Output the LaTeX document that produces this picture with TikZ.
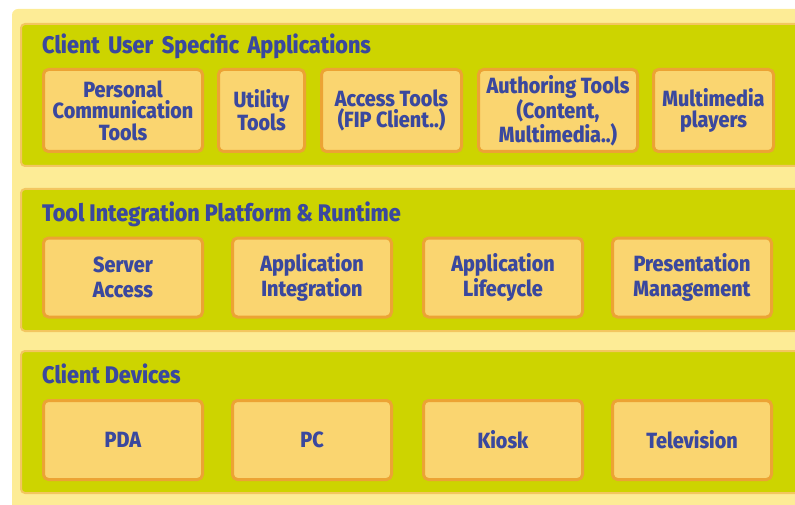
\documentclass[tikz,border=0pt]{standalone}
\usepackage{fontspec}
\setmainfont{Fira Sans}[BoldFont={Fira Sans ExtraBold},FakeStretch=0.9]
\definecolor{paleback}{RGB}{253,236,150}
\definecolor{layergreen}{RGB}{205,212,0}
\definecolor{layerrim}{RGB}{243,198,96}
\definecolor{toolfill}{RGB}{250,213,112}
\definecolor{toolrim}{RGB}{236,163,52}
\definecolor{inkblue}{RGB}{58,72,158}
\tikzset{
  layer/.style={draw=layerrim, fill=layergreen, line width=2pt, rounded corners=4pt},
  layertitle/.style={anchor=base west, inner sep=0pt, text=inkblue,
    font=\bfseries\fontsize{24}{26}\selectfont},
  toolbox/.style={draw=toolrim, fill=toolfill, line width=3pt, rounded corners=5pt,
    text=inkblue, align=center, inner sep=0pt},
  toprow/.style={toolbox, minimum height=82pt, font=\bfseries\fontsize{22}{21.5}\selectfont},
  lowrow/.style={toolbox, minimum height=79pt, font=\bfseries\fontsize{22}{25.5}\selectfont},
}
\begin{document}
\begin{tikzpicture}[x=1pt,y=-1pt]
\useasboundingbox (0,0) rectangle (795,505);
% pale backdrop behind the three layers
\fill[paleback, rounded corners=6pt] (12,9) rectangle (830,540);

% the three layers
\draw[layer] (21,24) rectangle (800,166);
\draw[layer] (21,189) rectangle (800,331);
\draw[layer] (21,351) rectangle (800,493);

\node[layertitle] (t1) at (42,54) {Client\hspace{0.35em}User\hspace{0.35em}Specific\hspace{0.35em}Applications};
\node[layertitle] (t2) at (42,222) {Tool Integration Platform \& Runtime};
\node[layertitle] (t3) at (42,383) {Client Devices};

% client user specific applications
\node[toprow, minimum width=159pt] (pct) at (123,110.5) {Personal\\Communication\\Tools};
\node[toprow, minimum width=86pt]  (ut)  at (261.5,110.5) {Utility\\Tools};
\node[toprow, minimum width=140pt] (acc) at (391.5,110.5) {Access Tools\\(FIP Client..)};
\node[toprow, minimum width=159pt] (aut) at (558,110.5) {Authoring Tools\\(Content,\\Multimedia..)};
\node[toprow, minimum width=120pt] (mm)  at (713.5,110.5) {Multimedia\\players};

% tool integration platform and runtime
\node[lowrow, minimum width=159pt] (sa) at (123,277.5) {Server\\Access};
\node[lowrow, minimum width=159pt] (ai) at (312,277.5) {Application\\Integration};
\node[lowrow, minimum width=159pt] (al) at (503,277.5) {Application\\Lifecycle};
\node[lowrow, minimum width=159pt] (pm) at (692,277.5) {Presentation\\Management};

% client devices
\node[lowrow, minimum width=159pt] (pda) at (123,440) {PDA};
\node[lowrow, minimum width=159pt] (pc)  at (312,440) {PC};
\node[lowrow, minimum width=159pt] (ki)  at (503,440) {Kiosk};
\node[lowrow, minimum width=159pt] (tv)  at (692,440) {Television};
\end{tikzpicture}
\end{document}
